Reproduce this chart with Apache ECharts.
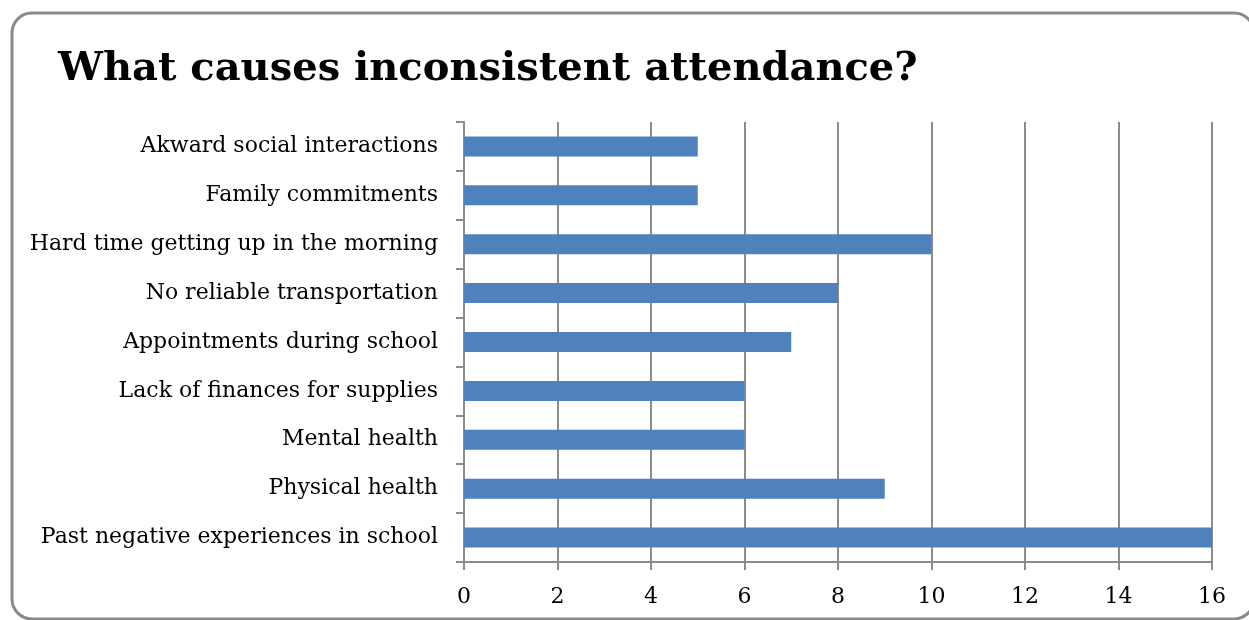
<!DOCTYPE html>
<html>
<head>
<meta charset="utf-8">
<script src="https://cdn.jsdelivr.net/npm/echarts@6/dist/echarts.min.js"></script>
<style>
  html, body { margin: 0; padding: 0; background: #fff; }
  #chart { width: 1249px; height: 620px; }
</style>
</head>
<body>
<div id="chart"></div>
<script>
// Reasons, listed bottom to top as they appear on the category axis
const reasons = [
  'Past negative experiences in school',
  'Physical health',
  'Mental health',
  'Lack of finances for supplies',
  'Appointments during school',
  'No reliable transportation',
  'Hard time getting up in the morning',
  'Family commitments',
  'Akward social interactions'
];
const responses = [16, 9, 6, 6, 7, 8, 10, 5, 5];
const axisMin = 0;
const axisMax = 16;
const axisStep = 2;

const serif = 'DejaVu Serif';
const gridColor = '#8c8c8c';

const chart = echarts.init(document.getElementById('chart'));
chart.setOption({
  animation: false,
  backgroundColor: '#fff',
  title: {
    text: 'What causes inconsistent attendance?',
    left: 53,
    top: 45,
    textStyle: { fontFamily: serif, fontSize: 40, fontWeight: 'bold', color: '#000' }
  },
  graphic: [{
    type: 'rect',
    shape: { x: 12, y: 13, width: 1242, height: 606, r: 20 },
    style: { fill: 'none', stroke: '#8a8a8a', lineWidth: 3 },
    z: 10
  }],
  grid: { left: 464, right: 37, top: 122, bottom: 58, containLabel: false },
  xAxis: {
    type: 'value',
    min: axisMin,
    max: axisMax,
    interval: axisStep,
    axisLine: { show: true, lineStyle: { color: gridColor, width: 2 } },
    axisTick: { show: true, length: 8, lineStyle: { color: gridColor, width: 2 } },
    splitLine: { show: true, lineStyle: { color: gridColor, width: 2 } },
    axisLabel: { fontFamily: serif, fontSize: 22, color: '#000', margin: 24 }
  },
  yAxis: {
    type: 'category',
    data: reasons,
    axisLine: { show: true, lineStyle: { color: gridColor, width: 2 } },
    axisTick: { show: true, length: 8, lineStyle: { color: gridColor, width: 2 } },
    axisLabel: { fontFamily: serif, fontSize: 22, color: '#000', margin: 26 }
  },
  series: [{
    type: 'bar',
    data: responses,
    barWidth: 20,
    itemStyle: { color: '#4f81bd' }
  }]
});
</script>
</body>
</html>
